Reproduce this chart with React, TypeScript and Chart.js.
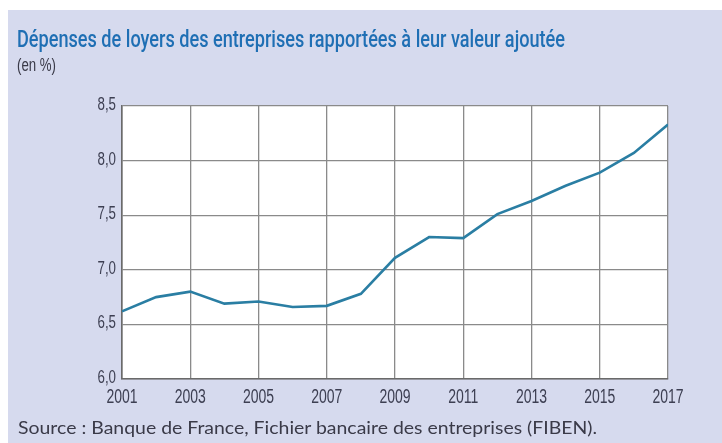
import React, { useEffect, useLayoutEffect, useRef } from "react";
import { Chart, registerables } from "chart.js";

Chart.register(...registerables);

const years = [2001, 2002, 2003, 2004, 2005, 2006, 2007, 2008, 2009, 2010, 2011, 2012, 2013, 2014, 2015, 2016, 2017];
const values = [6.62, 6.75, 6.8, 6.69, 6.71, 6.66, 6.67, 6.78, 7.11, 7.3, 7.29, 7.51, 7.63, 7.77, 7.89, 8.07, 8.33];
const xTickYears = [2001, 2003, 2005, 2007, 2009, 2011, 2013, 2015, 2017];
const yTickValues = [6.0, 6.5, 7.0, 7.5, 8.0, 8.5];

const titleText = "Dépenses de loyers des entreprises rapportées à leur valeur ajoutée";
const unitText = "(en %)";
const sourceText = "Source : Banque de France, Fichier bancaire des entreprises (FIBEN).";

const LABEL_COLOR = "#3d3f52";
const fmtY = (v: number) => v.toFixed(1).replace(".", ",");
const fmtX = (v: number) => String(v);

const tickLabelPlugin = {
  id: "condensedTickLabels",
  afterDraw(chart: any) {
    const ctx = chart.ctx;
    const xs = chart.scales.x;
    const ys = chart.scales.y;
    const area = chart.chartArea;
    ctx.save();
    ctx.fillStyle = LABEL_COLOR;
    ctx.textBaseline = "alphabetic";
    ys.ticks.forEach((t: any, i: number) => {
      const py = ys.getPixelForTick(i);
      ctx.save();
      ctx.translate(area.left - 6, py + 4);
      ctx.scale(0.74, 1);
      ctx.font = '18px "Liberation Sans", sans-serif';
      ctx.textAlign = "right";
      ctx.fillText(fmtY(t.value), 0, 0);
      ctx.restore();
    });
    xs.ticks.forEach((t: any, i: number) => {
      const px = xs.getPixelForTick(i);
      ctx.save();
      ctx.translate(px, area.bottom + 23.5);
      ctx.scale(0.7, 1);
      ctx.font = '20px "Liberation Sans", sans-serif';
      ctx.textAlign = "center";
      ctx.fillText(fmtX(t.value), 0, 0);
      ctx.restore();
    });
    ctx.restore();
  },
};

const plotBgPlugin = {
  id: "plotBg",
  beforeDraw(chart: any) {
    const { ctx, chartArea } = chart;
    ctx.save();
    ctx.fillStyle = "#ffffff";
    ctx.fillRect(chartArea.left, chartArea.top, chartArea.right - chartArea.left, chartArea.bottom - chartArea.top);
    ctx.restore();
  },
};

function FitText(props: { text: string; width: number; style: React.CSSProperties }) {
  const ref = useRef<HTMLSpanElement | null>(null);
  useLayoutEffect(() => {
    const el = ref.current;
    if (!el) return;
    const w = el.offsetWidth;
    if (w > 0) el.style.transform = `scaleX(${props.width / w})`;
  }, [props.text, props.width]);
  return (
    <span
      ref={ref}
      style={{
        position: "absolute",
        display: "inline-block",
        whiteSpace: "nowrap",
        transformOrigin: "left top",
        ...props.style,
      }}
    >
      {props.text}
    </span>
  );
}

export default function App() {
  const canvasRef = useRef<HTMLCanvasElement | null>(null);

  useEffect(() => {
    if (!canvasRef.current) return;
    const chart = new Chart(canvasRef.current, {
      type: "line",
      data: {
        datasets: [
          {
            data: years.map((y, i) => ({ x: y, y: values[i] })),
            borderColor: "#2a7ea3",
            borderWidth: 2.6,
            pointRadius: 0,
            tension: 0,
            fill: false,
          },
        ],
      },
      options: {
        animation: false,
        responsive: false,
        layout: { padding: { left: 122, right: 54, top: 106, bottom: 64 } },
        plugins: { legend: { display: false }, tooltip: { enabled: false }, title: { display: false } },
        scales: {
          x: {
            type: "linear",
            min: 2001,
            max: 2017,
            afterBuildTicks: (s: any) => {
              s.ticks = xTickYears.map((v) => ({ value: v }));
            },
            ticks: { display: false, callback: (v: any) => fmtX(Number(v)) },
            grid: { color: "#8a8a8a", lineWidth: 1.3, drawTicks: false },
            border: { color: "#6a6a6a", width: 1.6 },
          },
          y: {
            type: "linear",
            min: 6,
            max: 8.5,
            afterBuildTicks: (s: any) => {
              s.ticks = yTickValues.map((v) => ({ value: v }));
            },
            ticks: { display: false, callback: (v: any) => fmtY(Number(v)) },
            grid: { color: "#8a8a8a", lineWidth: 1.3, drawTicks: false },
            border: { color: "#6a6a6a", width: 1.6 },
          },
        },
      },
      plugins: [plotBgPlugin, tickLabelPlugin],
    });
    return () => chart.destroy();
  }, []);

  return (
    <div
      style={{
        position: "fixed",
        left: 0,
        top: 0,
        width: 722,
        height: 443,
        background: "#ffffff",
        overflow: "hidden",
      }}
    >
      <div style={{ position: "absolute", left: 8, top: 10, width: 714, height: 433, background: "#d6daee" }} />
      <canvas
        ref={canvasRef}
        width={722}
        height={443}
        style={{ position: "absolute", left: 0, top: 0, width: 722, height: 443 }}
      />
      <FitText
        text={titleText}
        width={548}
        style={{
          left: 17,
          top: 26.5,
          fontFamily: "Roboto, 'Liberation Sans', sans-serif",
          fontWeight: 500,
          fontSize: 24,
          lineHeight: "24px",
          color: "#1f6fb4",
        }}
      />
      <FitText
        text={unitText}
        width={39}
        style={{
          left: 17,
          top: 56,
          fontFamily: "'Liberation Sans', sans-serif",
          fontSize: 18,
          lineHeight: "18px",
          color: "#3a3a48",
        }}
      />
      <FitText
        text={sourceText}
        width={579}
        style={{
          left: 18,
          top: 418,
          fontFamily: "Lato, 'Liberation Sans', sans-serif",
          fontSize: 18,
          lineHeight: "18px",
          color: "#3a3a48",
        }}
      />
    </div>
  );
}
